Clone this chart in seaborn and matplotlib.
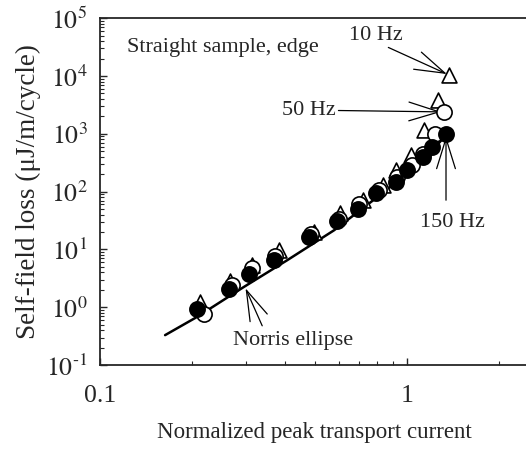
import matplotlib
matplotlib.use("Agg")
import matplotlib.pyplot as plt
import numpy as np
import pandas as pd
import seaborn as sns
from matplotlib.ticker import LogLocator, FixedFormatter, FixedLocator


# normalized peak current and loss, per frequency
I_10HZ = [0.212, 0.266, 0.313, 0.383, 0.498, 0.606, 0.717, 0.833, 0.92, 1.03, 1.14, 1.26, 1.375]
Q_10HZ = [1.24, 2.9, 5.3, 9.7, 20, 42, 71, 129, 234, 427, 1150, 3800, 10300]

I_50HZ = [0.218, 0.27, 0.313, 0.373, 0.486, 0.60, 0.698, 0.81, 0.93, 1.04, 1.125, 1.23, 1.32]
Q_50HZ = [0.78, 2.4, 4.7, 7.6, 18.8, 34, 62, 106, 180, 286, 456, 1010, 2390]

I_150HZ = [0.207, 0.263, 0.305, 0.368, 0.48, 0.593, 0.69, 0.79, 0.92, 1.0, 1.125, 1.21, 1.34]
Q_150HZ = [0.95, 2.1, 3.8, 6.7, 16.4, 31, 51, 93, 147, 234, 398, 593, 1010]

# Norris ellipse curve, traced
I_NORRIS = [0.163, 0.207, 0.294, 0.407, 0.579, 0.802, 1.0, 1.17, 1.34]
Q_NORRIS = [0.33, 0.68, 2.24, 6.5, 21.5, 81, 206, 427, 946]

Y_TICKS = [1e-1, 1e0, 1e1, 1e2, 1e3, 1e4, 1e5]
Y_LABELS = [r"$10^{\text{-}1}$", "$10^{0}$", "$10^{1}$", "$10^{2}$", "$10^{3}$", "$10^{4}$", "$10^{5}$"]
X_TICKS = [0.1, 1]
X_LABELS = ["0.1", "1"]


def main():
    sns.set_theme(style="ticks")
    plt.rcParams["font.family"] = ["Liberation Serif", "DejaVu Serif"]
    plt.rcParams["mathtext.fontset"] = "stix"

    fig = plt.figure(figsize=(5.26, 4.53), dpi=100)
    ax = fig.add_axes([0.190, 0.194, 0.815, 0.766])

    norris = pd.DataFrame({"I": I_NORRIS, "Q": Q_NORRIS})
    sns.lineplot(data=norris, x="I", y="Q", color="black", lw=1.8, ax=ax, zorder=2)

    d10 = pd.DataFrame({"I": I_10HZ, "Q": Q_10HZ})
    d50 = pd.DataFrame({"I": I_50HZ, "Q": Q_50HZ})
    d150 = pd.DataFrame({"I": I_150HZ, "Q": Q_150HZ})
    sns.scatterplot(data=d10, x="I", y="Q", marker="^", s=115, facecolor="white",
                    edgecolor="black", linewidth=1.2, ax=ax, zorder=3)
    sns.scatterplot(data=d50, x="I", y="Q", marker="o", s=120, facecolor="white",
                    edgecolor="black", linewidth=1.2, ax=ax, zorder=4)
    sns.scatterplot(data=d150, x="I", y="Q", marker="o", s=120, facecolor="black",
                    edgecolor="black", linewidth=1.2, ax=ax, zorder=5)

    ax.set_xscale("log")
    ax.set_yscale("log")
    ax.set_xlim(0.1, 2.49)
    ax.set_ylim(1e-1, 1e5)

    ax.xaxis.set_major_locator(FixedLocator(X_TICKS))
    ax.xaxis.set_major_formatter(FixedFormatter(X_LABELS))
    ax.xaxis.set_minor_locator(LogLocator(base=10, subs=np.arange(2, 10)))
    ax.yaxis.set_major_locator(FixedLocator(Y_TICKS))
    ax.yaxis.set_major_formatter(FixedFormatter(Y_LABELS))
    ax.yaxis.set_minor_locator(LogLocator(base=10, subs=np.arange(2, 10), numticks=20))
    ax.xaxis.set_minor_formatter(plt.NullFormatter())
    ax.yaxis.set_minor_formatter(plt.NullFormatter())

    ax.tick_params(which="major", direction="in", length=5, width=1, labelsize=18.5, pad=9)
    ax.tick_params(which="minor", direction="in", length=3, width=0.8)
    ax.tick_params(axis="x", which="major", pad=14)
    ax.spines["right"].set_visible(False)
    for side in ["left", "top", "bottom"]:
        ax.spines[side].set_linewidth(1.3)

    ax.set_xlabel("Normalized peak transport current", fontsize=16.5, labelpad=11)
    ax.set_ylabel("Self-field loss (μJ/m/cycle)", fontsize=19.5, labelpad=4)

    fs = 16
    ax.text(0.063, 0.916, "Straight sample, edge", transform=ax.transAxes,
            fontsize=fs, ha="left", va="center")
    ax.text(0.643, 0.951, "10 Hz", transform=ax.transAxes, fontsize=fs, ha="center", va="center")
    ax.text(0.488, 0.735, "50 Hz", transform=ax.transAxes, fontsize=fs, ha="center", va="center")
    ax.text(0.822, 0.412, "150 Hz", transform=ax.transAxes, fontsize=fs, ha="center", va="center")
    ax.text(0.451, 0.072, "Norris ellipse", transform=ax.transAxes, fontsize=fs, ha="center", va="center")

    arrow = dict(arrowstyle="->,head_length=1.45,head_width=0.45", color="black",
                 lw=0.9, shrinkA=0, shrinkB=2)
    ax.annotate("", xy=(I_10HZ[-1], Q_10HZ[-1]), xytext=(-44, 20), textcoords="offset points",
                arrowprops=arrow, fontsize=15)
    ax.annotate("", xy=(I_50HZ[-1], Q_50HZ[-1]), xytext=(-76, 1), textcoords="offset points",
                arrowprops=arrow, fontsize=15)
    ax.annotate("", xy=(I_150HZ[-1], Q_150HZ[-1]), xytext=(0, -48), textcoords="offset points",
                arrowprops=arrow, fontsize=15)
    ax.annotate("", xy=(0.298, 2.13), xytext=(12, -27), textcoords="offset points",
                arrowprops=dict(arrow, shrinkB=0), fontsize=15)

    fig.savefig("out.png", dpi=100)
    plt.close(fig)


if __name__ == "__main__":
    main()
